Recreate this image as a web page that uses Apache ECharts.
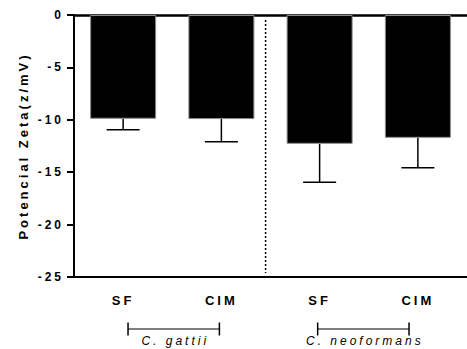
<!DOCTYPE html>
<html>
<head>
<meta charset="utf-8">
<script src="https://cdn.jsdelivr.net/npm/echarts@6/dist/echarts.min.js"></script>
<style>
  html, body { margin: 0; padding: 0; background: #fff; }
  #chart { width: 467px; height: 349px; letter-spacing: 3px; }
</style>
</head>
<body>
<div id="chart"></div>
<script>
const categories = ['SF', 'CIM', 'SF', 'CIM']
const means = [-9.9, -9.93, -12.29, -11.72]
const errors = [1.06, 2.17, 3.66, 2.86]
const yTicks = [-25, -20, -15, -10, -5, 0]
// species groups: start / end position on the category scale
const groupNames = ['C. gattii', 'C. neoformans']
const groupStart = [0.05, 1.98]
const groupEnd = [0.98, 2.91]
const separatorAt = [1.45]

const font = "'Liberation Sans', Arial, sans-serif"

const chart = echarts.init(document.getElementById('chart'), null, { renderer: 'svg' })

chart.setOption({
  animation: false,
  backgroundColor: '#fff',
  grid: {
    left: 74,
    top: 15,
    width: 396,
    bottom: 72
  },
  xAxis: [{
    type: 'category',
    data: categories,
    position: 'bottom',
    axisLine: { onZero: false, lineStyle: { color: '#000', width: 2 } },
    axisTick: { alignWithLabel: true, length: 6, lineStyle: { color: '#000', width: 2 } },
    axisLabel: { color: '#000', fontSize: 13, fontWeight: 'bold', fontFamily: font, margin: 17 },
    splitLine: { show: false }
  }, {
    // hidden linear scale for separator and brackets, line drawn as the zero line on top
    type: 'value',
    position: 'top',
    min: -0.5,
    max: 3.5,
    axisLine: { show: true, onZero: false, lineStyle: { color: '#000', width: 2.5 } },
    axisTick: { show: false },
    axisLabel: { show: false },
    splitLine: { show: false }
  }],
  yAxis: {
    type: 'value',
    min: yTicks[0],
    max: yTicks[yTicks.length - 1],
    interval: 5,
    name: 'Potencial Zeta(z/mV)',
    nameLocation: 'middle',
    nameGap: 44,
    nameTextStyle: { color: '#000', fontSize: 13, fontWeight: 'bold', fontFamily: font },
    axisLine: { show: true, onZero: false, lineStyle: { color: '#000', width: 2 } },
    axisTick: { show: true, length: 7, lineStyle: { color: '#000', width: 2 } },
    axisLabel: { color: '#000', fontSize: 12, fontWeight: 'bold', fontFamily: font, margin: 10 },
    splitLine: { show: false }
  },
  series: [{
    type: 'bar',
    data: means,
    barWidth: 66,
    itemStyle: { color: '#000', borderColor: '#8a8a8a', borderWidth: 1 }
  }, {
    type: 'custom',
    name: 'sd',
    data: means.map((m, i) => [i, m, errors[i]]),
    z: 1,
    renderItem: function (params, api) {
      const top = api.coord([api.value(0), api.value(1)])
      const bottom = api.coord([api.value(0), api.value(1) - api.value(2)])
      const half = 16.5
      return {
        type: 'group',
        children: [{
          type: 'line',
          shape: { x1: top[0], y1: top[1], x2: bottom[0], y2: bottom[1] },
          style: { stroke: '#000', lineWidth: 1.5 }
        }, {
          type: 'line',
          shape: { x1: bottom[0] - half, y1: bottom[1], x2: bottom[0] + half, y2: bottom[1] },
          style: { stroke: '#000', lineWidth: 1.5 }
        }]
      }
    }
  }, {
    type: 'custom',
    name: 'separator',
    xAxisIndex: 1,
    data: separatorAt.map(v => [v, 0]),
    renderItem: function (params, api) {
      const a = api.coord([api.value(0), 0])
      const b = api.coord([api.value(0), yTicks[0]])
      return {
        type: 'line',
        shape: { x1: a[0], y1: a[1] + 5, x2: b[0], y2: b[1] - 4 },
        style: { stroke: '#000', lineWidth: 1.5, lineDash: [2, 2] }
      }
    }
  }, {
    type: 'custom',
    name: 'groups',
    xAxisIndex: 1,
    clip: false,
    encode: { x: [0, 1] },
    data: groupNames.map((g, i) => [groupStart[i], groupEnd[i], g]),
    renderItem: function (params, api) {
      const s = api.coord([api.value(0), yTicks[0]])
      const e = api.coord([api.value(1), yTicks[0]])
      const y = s[1] + 52
      const name = groupNames[params.dataIndex]
      return {
        type: 'group',
        children: [{
          type: 'line',
          shape: { x1: s[0], y1: y, x2: e[0], y2: y },
          style: { stroke: '#000', lineWidth: 1.2 }
        }, {
          type: 'line',
          shape: { x1: s[0], y1: y - 6.5, x2: s[0], y2: y + 6.5 },
          style: { stroke: '#000', lineWidth: 1.5 }
        }, {
          type: 'line',
          shape: { x1: e[0], y1: y - 6.5, x2: e[0], y2: y + 6.5 },
          style: { stroke: '#000', lineWidth: 1.5 }
        }, {
          type: 'text',
          style: {
            text: name,
            x: (s[0] + e[0]) / 2 + 1.5,
            y: y + 12,
            align: 'center',
            verticalAlign: 'middle',
            fill: '#000',
            font: 'italic 12px ' + font
          }
        }]
      }
    }
  }]
})
</script>
</body>
</html>
